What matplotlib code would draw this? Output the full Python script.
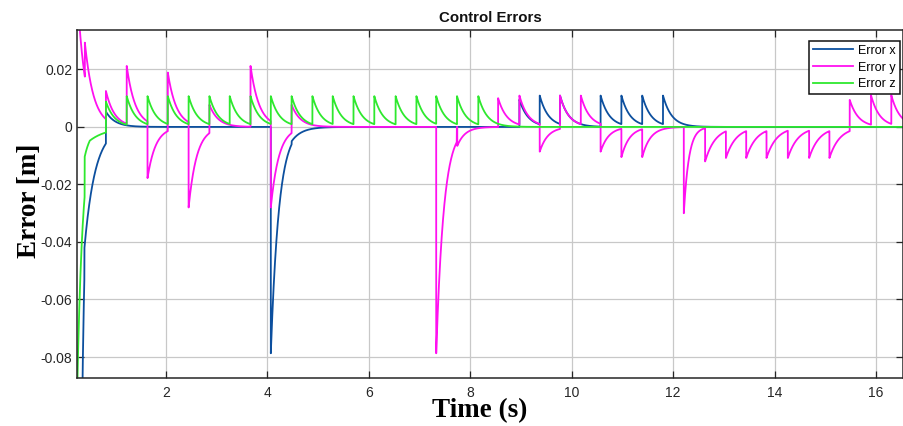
import numpy as np
import matplotlib
matplotlib.use("Agg")
import matplotlib.pyplot as plt

plt.rcParams["axes.unicode_minus"] = False

# Each series is described by its switching instants: at every instant the
# error takes the listed value and then relaxes toward zero with the listed
# time constant until the next instant.
x_times = [0.25, 0.395, 0.82, 4.07, 4.48, 8.97, 9.37, 9.77, 10.57, 10.98, 11.39, 11.80]
x_values = [-0.42, -0.0424, 0.0053, -0.0787, -0.005, 0.0095, 0.0109, 0.0109,
            0.0109, 0.0109, 0.0109, 0.0109]
x_taus = [0.07, 0.213, 0.18, 0.16, 0.20, 0.17, 0.17, 0.17, 0.17, 0.17, 0.17, 0.17]

y_times = [0.25, 0.405, 0.82, 1.23, 1.64, 2.04, 2.45, 2.86, 3.67, 4.07, 4.48,
           7.33, 7.735, 7.745, 8.55, 8.97, 9.37, 9.77, 10.18, 10.57, 10.98, 11.39,
           12.21, 12.63, 13.04, 13.44, 13.84, 14.26, 14.68, 15.08,
           15.48, 15.90, 16.30]
y_values = [0.049, 0.0293, 0.0125, 0.0212, -0.0178, 0.0189, -0.028, 0.0077, 0.0212,
            -0.028, 0.0077, -0.0787, 0.0, -0.0066, 0.010, 0.0109, -0.0086, 0.0109,
            0.0109, -0.0086, -0.0105, -0.0105, -0.030, -0.012, -0.0108, -0.0108,
            -0.0108, -0.0108, -0.0108, -0.0108, 0.0094, 0.011, 0.011]
y_taus = [0.15, 0.174, 0.17, 0.17, 0.16, 0.17, 0.16, 0.17, 0.17, 0.16, 0.17,
          0.15, 0.15, 0.155, 0.17, 0.17, 0.16, 0.17, 0.17, 0.16, 0.16, 0.16,
          0.10, 0.20, 0.20, 0.20, 0.20, 0.20, 0.20, 0.20, 0.17, 0.17, 0.17]

z_times = [0.25, 0.40, 0.50, 0.82, 1.23, 1.64, 2.04, 2.45, 2.86, 3.26, 3.67, 4.07,
           4.48, 4.89, 5.29, 5.70, 6.11, 6.53, 6.94, 7.33, 7.74, 8.16]
z_values = [-0.095, -0.0105, -0.0048, 0.0088] + [0.0107] * 18
z_taus = [0.11, 0.13, 0.35] + [0.17] * 19

x_ticks = [2, 4, 6, 8, 10, 12, 14, 16]
y_ticks = [-0.08, -0.06, -0.04, -0.02, 0, 0.02]
y_tick_labels = ["-0.08", "-0.06", "-0.04", "-0.02", "0", "0.02"]


def relax(t, times, values, taus):
    times = np.asarray(times)
    idx = np.searchsorted(times, t, side="right") - 1
    out = np.zeros_like(t)
    ok = idx >= 0
    i = idx[ok]
    out[ok] = np.asarray(values)[i] * np.exp(-(t[ok] - times[i]) / np.asarray(taus)[i])
    return out


t = np.arange(0.25, 16.6, 0.0005)
ex = relax(t, x_times, x_values, x_taus)
ey = relax(t, y_times, y_values, y_taus)
ez = relax(t, z_times, z_values, z_taus)

fig = plt.figure(figsize=(9.04, 4.26), dpi=100)
ax = fig.add_axes([77 / 904, 1 - 378 / 426, 826 / 904, 348 / 426])

ax.plot(t, ex, color="#0c4f9e", lw=1.3, label="Error x")
ax.plot(t, ey, color="#ff10f0", lw=1.3, label="Error y")
ax.plot(t, ez, color="#2ee82e", lw=1.3, label="Error z")

ax.set_xlim(0.25, 16.53)
ax.set_ylim(-0.0873, 0.0337)
ax.set_xticks(x_ticks)
ax.set_yticks(y_ticks)
ax.set_yticklabels(y_tick_labels)
ax.grid(True, color="#c8c8c8", lw=0.9)
ax.set_axisbelow(True)
for s in ax.spines.values():
    s.set_color("#262626")
    s.set_linewidth(1.1)
ax.tick_params(direction="in", length=5, width=0.9, color="#262626",
               top=True, right=True, labelsize=10, labelcolor="#262626")
ax.tick_params(axis="x", pad=5.5)
ax.tick_params(axis="y", pad=3.5)
for lab in ax.get_xticklabels() + ax.get_yticklabels():
    lab.set_family("Liberation Sans")

ax.set_title("Control Errors", family="Liberation Sans", fontsize=10.8,
             fontweight="bold", color="#111111", pad=6)

fig.text(480 / 904, 1 - 411 / 426, "Time (s)", family="Liberation Serif",
         fontweight="bold", fontsize=19.5, ha="center", va="center")
fig.text(30 / 904, 1 - 201 / 426, "Error [m]", family="Liberation Serif",
         fontweight="bold", fontsize=19.5, ha="center", va="center", rotation=90)

leg = ax.legend(loc="upper right", bbox_to_anchor=(0.9964, 0.969),
                borderaxespad=0, fancybox=False, framealpha=1,
                edgecolor="#111111", prop={"family": "Liberation Sans", "size": 9},
                handlelength=3.25, handletextpad=0.4, labelspacing=0.38,
                borderpad=0.32)
leg.get_frame().set_linewidth(1.1)

fig.savefig("out.png", dpi=100)
